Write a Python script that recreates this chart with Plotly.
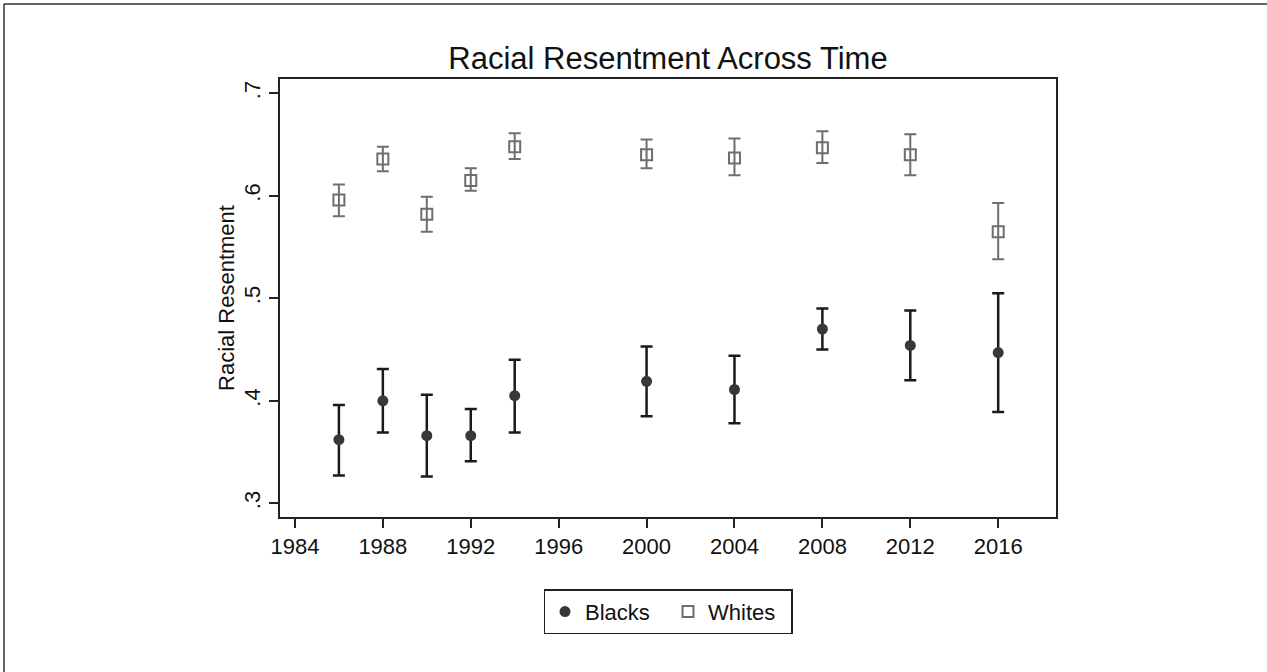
import plotly.graph_objects as go

years = [1986, 1988, 1990, 1992, 1994, 2000, 2004, 2008, 2012, 2016]

whites_mean = [0.596, 0.636, 0.582, 0.615, 0.648, 0.640, 0.637, 0.647, 0.640, 0.565]
whites_low = [0.580, 0.624, 0.565, 0.605, 0.636, 0.627, 0.620, 0.632, 0.620, 0.538]
whites_high = [0.611, 0.648, 0.599, 0.627, 0.661, 0.655, 0.656, 0.663, 0.660, 0.593]

blacks_mean = [0.362, 0.400, 0.366, 0.366, 0.405, 0.419, 0.411, 0.470, 0.454, 0.447]
blacks_low = [0.327, 0.369, 0.326, 0.341, 0.369, 0.385, 0.378, 0.450, 0.420, 0.389]
blacks_high = [0.396, 0.431, 0.406, 0.392, 0.440, 0.453, 0.444, 0.490, 0.488, 0.505]

y_ticks = [0.3, 0.4, 0.5, 0.6, 0.7]
y_ticktext = [".3", ".4", ".5", ".6", ".7"]
x_ticks = [1984, 1988, 1992, 1996, 2000, 2004, 2008, 2012, 2016]

FONT = "Liberation Sans, Arial, sans-serif"

fig = go.Figure()

fig.add_trace(go.Scatter(
    x=years, y=blacks_mean, mode="markers", name="Blacks",
    marker=dict(symbol="circle", size=11, color="#383838"),
    error_y=dict(type="data", symmetric=False,
                 array=[h - m for h, m in zip(blacks_high, blacks_mean)],
                 arrayminus=[m - l for m, l in zip(blacks_mean, blacks_low)],
                 color="#1a1a1a", thickness=2.5, width=6),
))
fig.add_trace(go.Scatter(
    x=years, y=whites_mean, mode="markers", name="Whites",
    marker=dict(symbol="square-open", size=11, color="#6e6e6e",
                line=dict(width=2, color="#6e6e6e")),
    error_y=dict(type="data", symmetric=False,
                 array=[h - m for h, m in zip(whites_high, whites_mean)],
                 arrayminus=[m - l for m, l in zip(whites_mean, whites_low)],
                 color="#6e6e6e", thickness=2, width=6),
))

fig.update_layout(
    width=1267, height=672,
    margin=dict(l=280, r=211, t=79, b=155),
    paper_bgcolor="white", plot_bgcolor="white",
    font=dict(family=FONT, color="#111111", size=22),
    title=dict(text="Racial Resentment Across Time", x=0.5, xref="paper",
               xanchor="center", y=1, yref="paper", yanchor="bottom",
               pad=dict(b=10),
               font=dict(family=FONT, size=31, color="#111111")),
    xaxis=dict(range=[1983.32, 2018.63], tickvals=x_ticks,
               showgrid=False, zeroline=False,
               showline=True, linecolor="#222222", linewidth=1.5, mirror=True,
               ticks="outside", ticklen=9, tickwidth=1.5, tickcolor="#222222",
               tickfont=dict(size=22)),
    yaxis=dict(range=[0.2866, 0.714], tickvals=y_ticks, ticktext=y_ticktext,
               tickangle=-90,
               showgrid=False, zeroline=False,
               showline=True, linecolor="#222222", linewidth=1.5, mirror=True,
               ticks="outside", ticklen=9, tickwidth=1.5, tickcolor="#222222",
               tickfont=dict(size=22),
               title=dict(text="Racial Resentment", font=dict(size=22), standoff=0)),
    legend=dict(orientation="h", x=0.5, xanchor="center", y=-0.165, yanchor="top",
                bordercolor="#222222", borderwidth=1.5, bgcolor="white",
                font=dict(size=22), itemwidth=30,
                entrywidth=78, entrywidthmode="pixels"),
    showlegend=True,
    shapes=[
        dict(type="line", xref="paper", yref="paper",
             x0=-276/776, x1=(1267-280)/776, y0=(517-4)/438, y1=(517-4)/438,
             line=dict(color="#333333", width=1.5)),
        dict(type="line", xref="paper", yref="paper",
             x0=-276/776, x1=-276/776, y0=(517-4)/438, y1=-155/438,
             line=dict(color="#333333", width=1.5)),
    ],
)

fig.write_html("out.html")
